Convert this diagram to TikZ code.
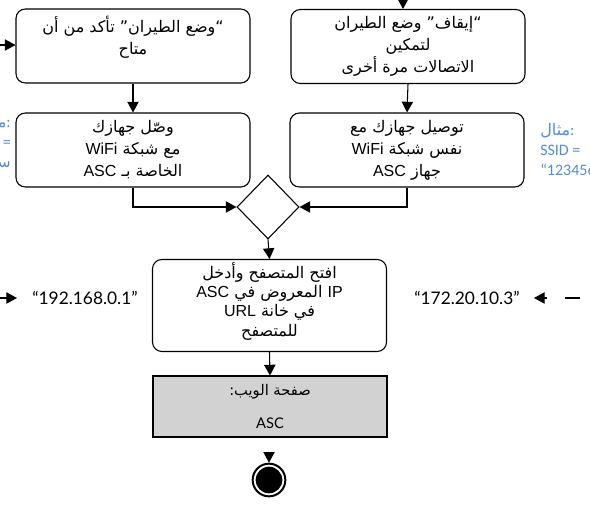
\documentclass[tikz,border=0pt]{standalone}
\usepackage{fontspec}
\setmainfont{Liberation Sans}
\newfontfamily\arabicfont[Script=Arabic]{DejaVu Sans}
\newfontfamily\addrfont{Lato}
\newfontfamily\notefont{Carlito}
\TeXXeTstate=1
\usetikzlibrary{arrows.meta,shapes.geometric}
\definecolor{clrNote}{RGB}{84,141,212}
\definecolor{clrPage}{RGB}{210,210,210}
\newcommand{\artxt}[1]{{\arabicfont\beginR #1\endR}}
\newcommand{\lat}[1]{\beginL{\rmfamily #1}\endL}
\tikzset{
  actbox/.style={rectangle,rounded corners=7pt,draw,line width=0.8pt,
    minimum width=175.5pt,minimum height=55.5pt,inner sep=2pt,
    align=center,font=\fontsize{12}{16.5}\selectfont},
  mergebox/.style={diamond,draw,line width=0.8pt,inner sep=0pt,
    minimum width=46.5pt,minimum height=48pt},
  pagebox/.style={rectangle,draw,line width=0.8pt,fill=clrPage,
    minimum width=175.5pt,minimum height=45.75pt,inner sep=2pt,
    align=center,font=\fontsize{11}{14}\selectfont},
  endnode/.style={circle,draw,line width=1.5pt,minimum size=24.5pt,inner sep=0pt,
    path picture={\fill (path picture bounding box.center) circle (10pt);}},
  addr/.style={font=\addrfont\fontsize{13}{15}\selectfont,inner sep=0pt},
  note/.style={font=\notefont\fontsize{12}{15}\selectfont,text=clrNote,
    inner sep=0pt},
  arrow/.style={-{Triangle[length=8pt,width=8.5pt]},line width=0.8pt}
}
\begin{document}
\begin{tikzpicture}[x=0.75pt,y=-0.75pt]
  \useasboundingbox (0,0) rectangle (590,517);
  \clip (0,0) rectangle (590,517);

  % actions
  \node[actbox] (airon) at (133,46)
    {\artxt{“وضع الطيران” تأكد من أن}\\
     \artxt{متاح}\\ \mbox{}};
  \node[actbox] (airoff) at (408,46.5)
    {\artxt{“إيقاف” وضع الطيران}\\
     \artxt{لتمكين}\\
     \artxt{الاتصالات مرة أخرى}};
  \node[actbox] (joinasc) at (133,150)
    {\artxt{وصّل جهازك}\\
     \artxt{مع شبكة \lat{WiFi}}\\
     \artxt{الخاصة بـ \lat{ASC}}};
  \node[actbox] (joinsame) at (407,150)
    {\artxt{توصيل جهازك مع}\\
     \artxt{نفس شبكة \lat{WiFi}}\\
     \artxt{جهاز \lat{ASC}}};
  \node[mergebox] (merge) at (268,207) {};
  \node[actbox,minimum height=65.25pt,font=\fontsize{12}{14.5}\selectfont]
    (browser) at (269.5,305.5)
    {\artxt{افتح المتصفح وأدخل}\\
     \artxt{\lat{IP} المعروض في \lat{ASC}}\\
     \artxt{في خانة \lat{URL}}\\
     \artxt{للمتصفح}\\[-5pt]\mbox{}};
  \node[pagebox] (webpage) at (270,406.5)
    {\artxt{صفحة الويب:}\\[11pt]{\addrfont ASC}};
  \node[endnode] (final) at (269,480) {};

  % addresses and notes
  \node[addr] (ipa) at (85,298) {“192.168.0.1”};
  \node[addr] (ipb) at (467,298) {“172.20.10.3”};
  \node[note,anchor=north west,align=left] (noteright) at (540,123)
    {{\arabicfont مثال}:\\ SSID =\\ “123456”};
  \node[note,anchor=north east,align=right] (noteleft) at (11,115)
    {{\arabicfont مثال}:\\ =\\ {\arabicfont سر}};

  % connectors
  \coordinate (inleft) at (0,45);
  \coordinate (intop) at (403,0);
  \coordinate (endstub) at (269,453);
  \coordinate (ipatail) at (0,298);
  \coordinate (ipatip) at (17,298);
  \coordinate (ipbtail) at (590,298);
  \coordinate (ipbtip) at (534,298);

  \draw[arrow] (inleft) -- (inleft -| airon.west);
  \draw[arrow] (intop) -- (intop |- airoff.north);
  \draw[arrow] (airon.south) -- (joinasc.north);
  \draw[arrow] (airoff.south) -- (joinsame.north);
  \draw[arrow] (joinasc.south) |- (merge.west);
  \draw[arrow] (joinsame.south) |- (merge.east);
  \draw[arrow] (merge.south) -- (browser.north);
  \draw[arrow] (browser.south) -- (webpage.north);
  \draw[arrow] (endstub) -- (final.north);
  \draw[arrow] (ipatail) -- (ipatip);
  \draw[arrow,dash pattern=on 0pt off 7.5pt on 11.25pt off 13.5pt on 40pt]
    (ipbtail) -- (ipbtip);
\end{tikzpicture}
\end{document}
